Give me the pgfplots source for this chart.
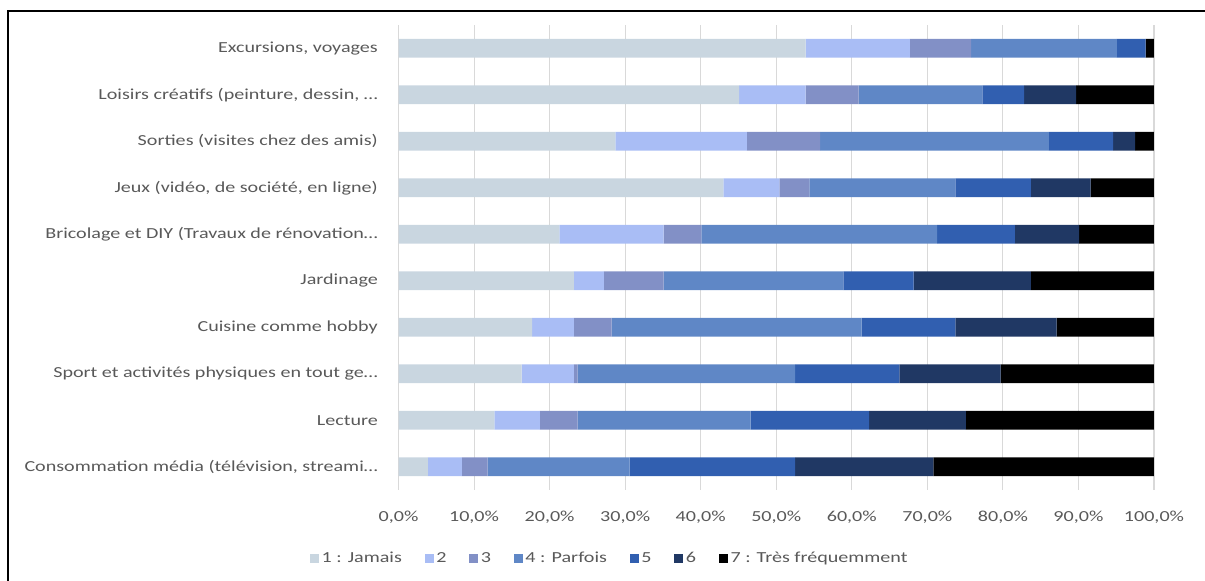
\documentclass[border=0pt]{standalone}
\usepackage{fontspec}
\setmainfont{Carlito}[FakeStretch=1.31]
\usepackage{pgfplots}
\usepackage{pgfplotstable}
\pgfplotsset{compat=1.18}

\definecolor{c1}{HTML}{C9D6E0}
\definecolor{c2}{HTML}{A9BDF5}
\definecolor{c3}{HTML}{8290C6}
\definecolor{c4}{HTML}{5F87C6}
\definecolor{c5}{HTML}{315FB0}
\definecolor{c6}{HTML}{203864}
\definecolor{c7}{HTML}{000000}
\definecolor{txt}{HTML}{595959}
\definecolor{grd}{HTML}{D9D9D9}

% Share of answers (%) per activity, from 1 (never) to 7 (very often)
\pgfplotstableread{
y  s1   s2   s3   s4   s5   s6   s7
0  3.9  4.5  3.4  18.8 21.9 18.3 29.2
1  12.7 6.0  5.0  22.9 15.7 12.8 24.9
2  16.3 6.9  0.5  28.8 13.8 13.4 20.3
3  17.7 5.5  5.0  33.1 12.4 13.4 12.9
4  23.2 4.0  7.9  23.8 9.3  15.5 16.3
5  21.3 13.8 5.0  31.2 10.3 8.5  9.9
6  43.0 7.4  4.0  19.3 10.0 7.9  8.4
7  28.7 17.4 9.7  30.3 8.5  2.9  2.5
8  45.1 8.8  7.0  16.4 5.5  6.9  10.3
9  53.9 13.8 8.1  19.3 3.8  0.0  1.1
}\activites

\begin{document}
\begin{tikzpicture}
\useasboundingbox (0,0) rectangle (903.75pt,435.75pt);
% frame of the chart area (top and left edges)
\draw[line width=1.5pt] (6pt,0pt) -- (6pt,427.5pt) -- (904pt,427.5pt);
\begin{axis}[
  at={(298.875pt,68.25pt)}, anchor=south west,
  scale only axis, width=566.6pt, height=348.75pt,
  xbar stacked, bar width=13.9pt,
  xmin=0, xmax=100, ymin=-0.5, ymax=9.5,
  axis line style={draw=none},
  major tick length=0pt,
  xmajorgrids, grid style={grd, line width=0.8pt},
  xtick={0,10,20,30,40,50,60,70,80,90,100},
  xticklabels={{0,0\%},{10,0\%},{20,0\%},{30,0\%},{40,0\%},{50,0\%},{60,0\%},{70,0\%},{80,0\%},{90,0\%},{100,0\%}},
  ytick={0,1,2,3,4,5,6,7,8,9},
  yticklabels={
    {Consommation média (télévision, streami…},
    {Lecture},
    {Sport et activités physiques en tout ge…},
    {Cuisine comme hobby},
    {Jardinage},
    {Bricolage et DIY (Travaux de rénovation…},
    {Jeux (vidéo, de société, en ligne)},
    {Sorties (visites chez des amis)},
    {Loisirs créatifs (peinture, dessin, …},
    {Excursions, voyages}},
  tick label style={font=\fontsize{11.5}{13}\selectfont, text=txt},
  yticklabel style={xshift=-12pt},
  xticklabel style={yshift=-12pt},
  legend style={at={(0.28,-0.147)}, anchor=center, draw=none,
    font=\fontsize{11.5}{13}\selectfont, text=txt,
    legend columns=7, /tikz/every even column/.style={column sep=15pt},
    legend cell align=left},
  legend image code/.code={\fill[#1] (0pt,-3.4pt) rectangle (6.8pt,3.4pt);},
]
\addplot[fill=c1, draw=none] table[x=s1, y=y] {\activites};
\addplot[fill=c2, draw=none] table[x=s2, y=y] {\activites};
\addplot[fill=c3, draw=none] table[x=s3, y=y] {\activites};
\addplot[fill=c4, draw=none] table[x=s4, y=y] {\activites};
\addplot[fill=c5, draw=none] table[x=s5, y=y] {\activites};
\addplot[fill=c6, draw=none] table[x=s6, y=y] {\activites};
\addplot[fill=c7, draw=none] table[x=s7, y=y] {\activites};
\legend{1 : Jamais, 2, 3, 4 : Parfois, 5, 6, 7 : Très fréquemment}
\end{axis}
\end{tikzpicture}
\end{document}
